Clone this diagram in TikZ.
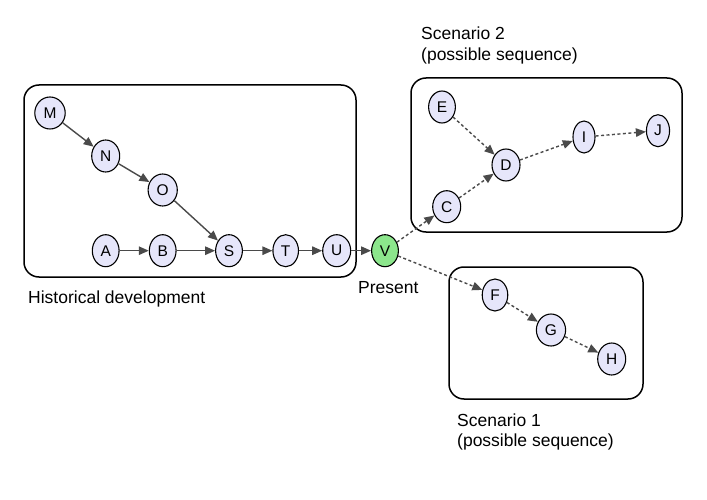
\documentclass[tikz,border=0pt]{standalone}
\usepackage{fontspec}
\setmainfont{Liberation Sans}
\usetikzlibrary{shapes.geometric, arrows.meta, positioning}
\definecolor{lavender}{HTML}{E6E6FA}
\definecolor{presentgreen}{HTML}{8CE68C}
\definecolor{edgegray}{HTML}{4A4A4A}
\tikzstyle{state} = [ellipse, draw=black, line width=1.1pt, fill=lavender, minimum width=22pt, minimum height=32pt, inner xsep=4.3pt, inner ysep=1pt, font=\fontsize{15.5}{18}\selectfont]
\tikzstyle{present} = [state, fill=presentgreen]
\tikzstyle{group} = [rectangle, rounded corners=15pt, draw=black, line width=1.5pt]
\tikzstyle{caption} = [anchor=base west, align=left, inner sep=0pt, font=\fontsize{17.5}{20.5}\selectfont]
\tikzstyle{arrow} = [draw=edgegray, line width=1.4pt, -{Triangle[length=10pt,width=8.5pt]}]
\tikzstyle{maybe} = [arrow, dash pattern=on 3pt off 2.5pt]

\begin{document}
\begin{tikzpicture}[x=1pt, y=-1pt]
		\useasboundingbox (0,0) rectangle (707,500);
		% groups
		\node (HistoryBox) [group, minimum width=332, minimum height=192] at (190,181) {};
		\node (ScenarioTwoBox) [group, minimum width=271, minimum height=154] at (546.5,155) {};
		\node (ScenarioOneBox) [group, minimum width=194, minimum height=132] at (546,333) {};
		% historical development
		\node (M) [state] at (50,113) {M};
		\node (N) [state] at (105.7,156) {N};
		\node (O) [state] at (162.7,190) {O};
		\node (A) [state] at (105.7,250.7) {A};
		\node (B) [state] at (162.7,250.7) {B};
		\node (S) [state] at (229,250.7) {S};
		\node (T) [state] at (285.7,250.7) {T};
		\node (U) [state] at (336.7,250.7) {U};
		\node (V) [present] at (385,250.7) {V};
		% scenario 2
		\node (E) [state] at (442,107) {E};
		\node (D) [state] at (506,165) {D};
		\node (C) [state] at (446.7,206.7) {C};
		\node (I) [state] at (584,137) {I};
		\node (J) [state] at (658,130.7) {J};
		% scenario 1
		\node (F) [state] at (495,295) {F};
		\node (G) [state] at (551,330) {G};
		\node (H) [state] at (611.7,359) {H};
		% captions
		\node (Historical) [caption] at (28,303.3) {Historical development};
		\node (Present) [caption] at (358,293.3) {Present};
		\node (ScenarioTwo) [caption] at (421,60.5) {Scenario 2\\(possible sequence)};
		\node (ScenarioOne) [caption] at (457,446.5) {Scenario 1\\(possible sequence)};
		% edges
		\draw [arrow] (M) -- (N);
		\draw [arrow] (N) -- (O);
		\draw [arrow] (O) -- (S);
		\draw [arrow] (A) -- (B);
		\draw [arrow] (B) -- (S);
		\draw [arrow] (S) -- (T);
		\draw [arrow] (T) -- (U);
		\draw [arrow] (U) -- (V);
		\draw [maybe] (V) -- (C);
		\draw [maybe] (C) -- (D);
		\draw [maybe] (E) -- (D);
		\draw [maybe] (D) -- (I);
		\draw [maybe] (I) -- (J);
		\draw [maybe] (V) -- (F);
		\draw [maybe] (F) -- (G);
		\draw [maybe] (G) -- (H);
\end{tikzpicture}
\end{document}
